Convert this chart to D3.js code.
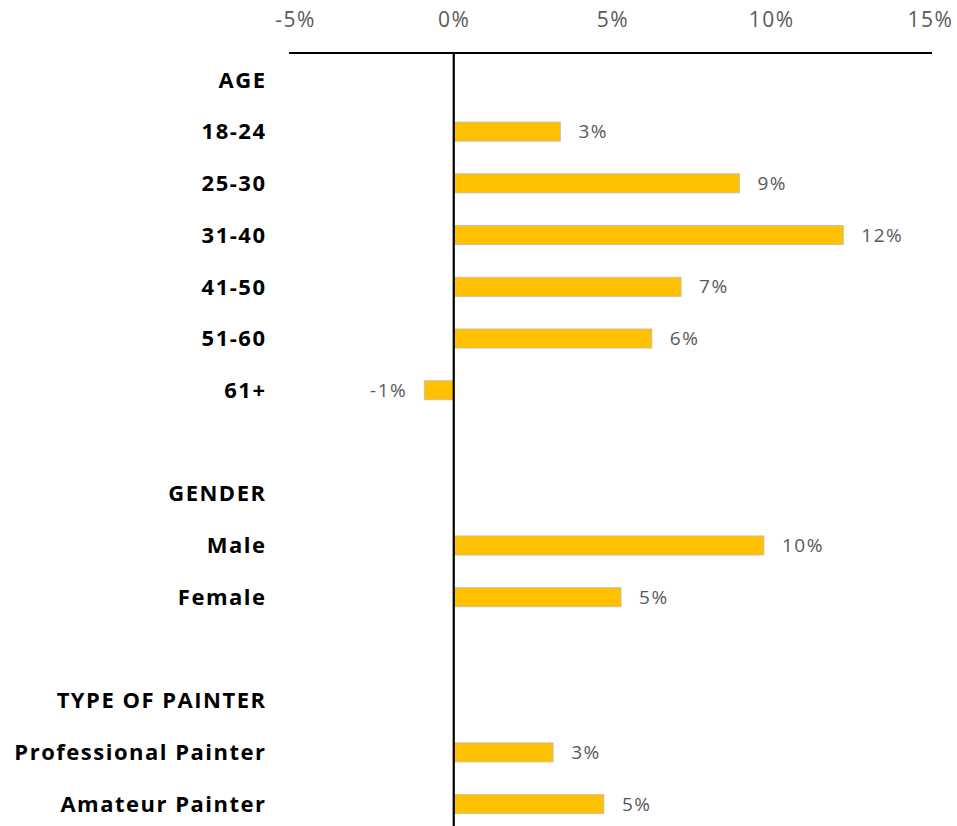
<!DOCTYPE html>
<html>
<head>
<meta charset="utf-8">
<script src="https://cdn.jsdelivr.net/npm/d3@7"></script>
<style>
  body { margin: 0; background: #fff; }
  svg { display: block; }
</style>
</head>
<body>
<svg id="chart" width="957" height="826"></svg>
<script>
// Row labels, top to bottom; empty strings are spacer rows.
const categories = [
  "AGE", "18-24", "25-30", "31-40", "41-50", "51-60", "61+", "",
  "GENDER", "Male", "Female", "",
  "TYPE OF PAINTER", "Professional Painter", "Amateur Painter"
];
// Share change (%) per row; null = heading / spacer.
const values = [
  null, 3.36, 9.0, 12.27, 7.16, 6.24, -0.93, null,
  null, 9.77, 5.27, null,
  null, 3.13, 4.73
];
const tickValues = [-5, 0, 5, 10, 15];

const rows = categories.map((c, i) => ({ key: "r" + i, label: c, value: values[i] }));

const svg = d3.select("#chart");
const x = d3.scaleLinear().domain([-5, 15]).range([295, 930]);
const y = d3.scaleBand().domain(rows.map(d => d.key)).range([54, 830]).paddingInner(0.63).paddingOuter(0.315);

const font = "'Open Sans', sans-serif";

// Top axis
const axis = d3.axisTop(x).tickValues(tickValues).tickSize(0).tickPadding(0)
  .tickFormat(d => d + "%");
const ag = svg.append("g").attr("transform", "translate(0,53)").call(axis);
ag.select(".domain").attr("stroke", "#000").attr("stroke-width", 2.2)
  .attr("d", `M${x(-5) - 6},0H${x(15) + 2}`);
ag.selectAll(".tick text")
  .attr("y", -26)
  .attr("font-family", font).attr("font-size", 21).attr("letter-spacing", 1.5)
  .attr("fill", "#595959");

// Bars
svg.append("g").selectAll("rect")
  .data(rows.filter(d => d.value != null))
  .join("rect")
  .attr("x", d => x(Math.min(0, d.value)))
  .attr("width", d => Math.abs(x(d.value) - x(0)))
  .attr("y", d => y(d.key))
  .attr("height", y.bandwidth())
  .attr("fill", "#FFC000")
  .attr("stroke", "#BFBFBF").attr("stroke-width", 0.8);

// Zero line
svg.append("line")
  .attr("x1", x(0)).attr("x2", x(0))
  .attr("y1", 53).attr("y2", 826)
  .attr("stroke", "#000").attr("stroke-width", 2.2);

// Value labels
svg.append("g").selectAll("text")
  .data(rows.filter(d => d.value != null))
  .join("text")
  .attr("x", d => d.value >= 0 ? x(d.value) + 18 : x(d.value) - 17)
  .attr("y", d => y(d.key) + y.bandwidth() / 2)
  .attr("dy", "0.35em")
  .attr("text-anchor", d => d.value >= 0 ? "start" : "end")
  .attr("font-family", font).attr("font-size", 19).attr("letter-spacing", 1.5)
  .attr("fill", "#595959")
  .text(d => Math.round(d.value) + "%");

// Category labels
svg.append("g").selectAll("text")
  .data(rows)
  .join("text")
  .attr("x", 266.5)
  .attr("y", d => y(d.key) + y.bandwidth() / 2)
  .attr("dy", "0.35em")
  .attr("text-anchor", "end")
  .attr("font-family", font).attr("font-weight", "bold").attr("font-size", 22)
  .attr("letter-spacing", 1.5).attr("fill", "#000")
  .text(d => d.label);
</script>
</body>
</html>
